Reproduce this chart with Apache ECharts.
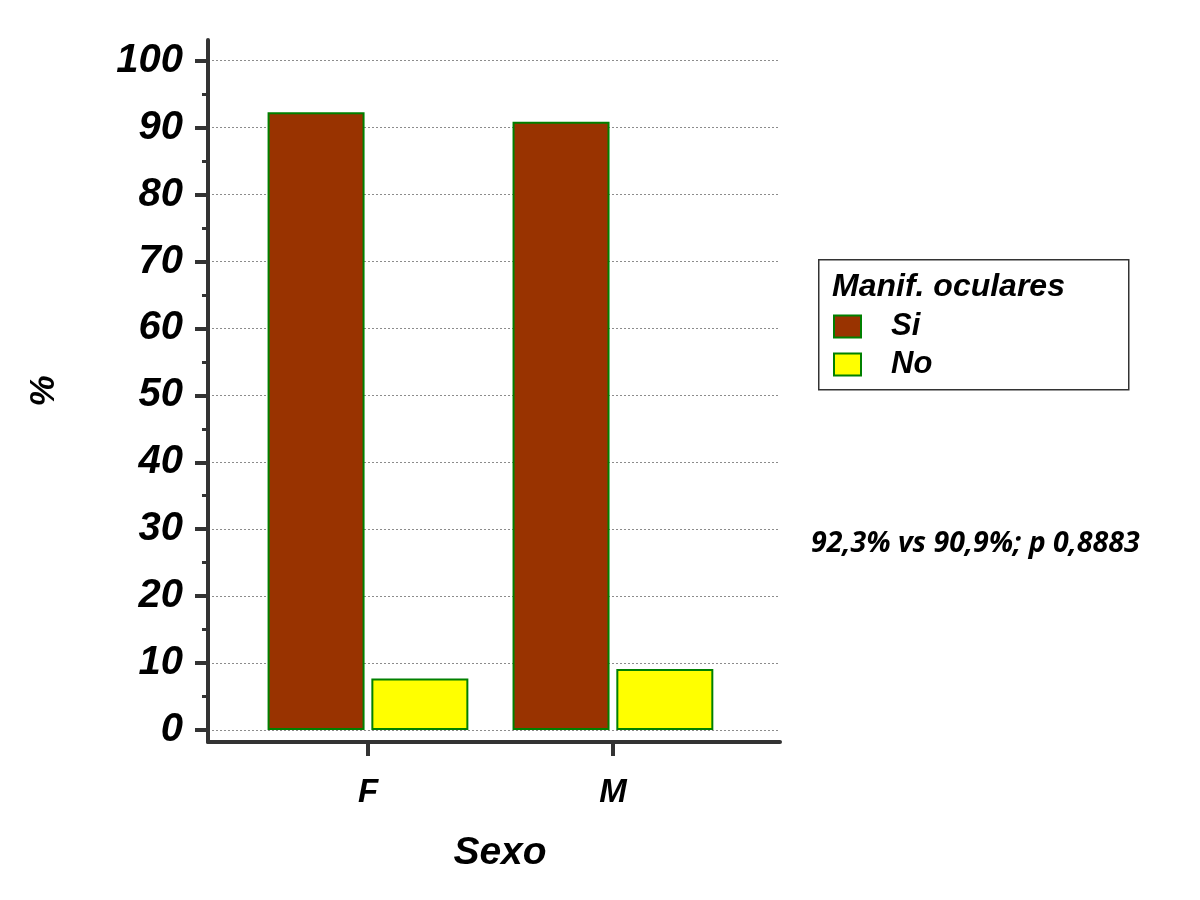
<!DOCTYPE html>
<html>
<head>
<meta charset="utf-8">
<script src="https://cdn.jsdelivr.net/npm/echarts@6/dist/echarts.min.js"></script>
<style>html,body{margin:0;padding:0;background:#fff}#c{width:1200px;height:900px}</style>
</head>
<body>
<div id="c"></div>
<script>
const categories = ['F', 'M'];
const seriesNames = ['Si', 'No'];
const siValues = [92.3, 90.9];
const noValues = [7.7, 9.1];
const yMajorTicks = [0, 10, 20, 30, 40, 50, 60, 70, 80, 90, 100];
const yMinorTicks = [5, 15, 25, 35, 45, 55, 65, 75, 85, 95];
const xTickPositions = [0, 1];
const annotation = '92,3% vs 90,9%; p 0,8883';
const legendTitle = 'Manif. oculares';

const font = 'Arial, "Liberation Sans", sans-serif';
const chart = echarts.init(document.getElementById('c'));
const axisColor = '#333333';

chart.setOption({
  backgroundColor: '#ffffff',
  animation: false,
  graphic: [{
    type: 'rect',
    left: 818, top: 259,
    shape: { width: 310, height: 130 },
    style: { fill: '#ffffff', stroke: '#333333', lineWidth: 1.5 },
    z: 0
  }],
  title: [{
    text: legendTitle,
    left: 832, top: 271,
    padding: 0,
    textStyle: { fontFamily: font, fontStyle: 'italic', fontWeight: 'bold', fontSize: 32, color: '#000' },
    z: 5
  }, {
    text: annotation,
    left: 811, top: 529,
    padding: 0,
    textStyle: { fontFamily: '"Open Sans", sans-serif', fontStyle: 'italic', fontWeight: 'bold', fontSize: 28.5, color: '#000' }
  }],
  legend: {
    left: 833, top: 311,
    orient: 'vertical',
    padding: 0,
    icon: 'rect',
    itemWidth: 27, itemHeight: 22, itemGap: 7,
    data: seriesNames,
    itemStyle: { borderColor: '#008000', borderWidth: 2 },
    textStyle: { fontFamily: font, fontStyle: 'italic', fontWeight: 'bold', fontSize: 31, color: '#000', padding: [0, 0, 0, 25], lineHeight: 22 },
    z: 5
  },
  grid: { left: 208, right: 420, top: 40, bottom: 158, containLabel: false },
  xAxis: {
    type: 'value',
    min: -0.653, max: 1.682,
    name: 'Sexo',
    nameLocation: 'middle',
    nameGap: 92,
    nameTextStyle: { fontFamily: font, fontStyle: 'italic', fontWeight: 'bold', fontSize: 39, color: '#000', padding: [0, 0, 0, 12] },
    axisLine: { show: true, onZero: false, lineStyle: { color: axisColor, width: 4 } },
    axisTick: { show: true, customValues: xTickPositions, length: 14, lineStyle: { color: axisColor, width: 4 } },
    axisLabel: {
      customValues: xTickPositions,
      margin: 34,
      formatter: v => categories[Math.round(v)] || '',
      fontFamily: font, fontStyle: 'italic', fontWeight: 'bold', fontSize: 33, color: '#000'
    },
    splitLine: { show: false }
  },
  yAxis: [{
    type: 'value',
    min: -1.8, max: 103.1,
    name: '%',
    nameLocation: 'middle',
    nameGap: 146,
    nameRotate: 90,
    nameTextStyle: { fontFamily: font, fontStyle: 'italic', fontWeight: 'bold', fontSize: 35, color: '#000' },
    axisLine: { show: true, onZero: false, lineStyle: { color: axisColor, width: 4 } },
    axisTick: { show: true, customValues: yMajorTicks, length: 13, lineStyle: { color: axisColor, width: 4 } },
    axisLabel: {
      customValues: yMajorTicks,
      margin: 25,
      fontFamily: font, fontStyle: 'italic', fontWeight: 'bold', fontSize: 40, color: '#000'
    },
    splitLine: { show: true, lineStyle: { color: '#8c8c8c', type: [2, 2], width: 1 } }
  }, {
    type: 'value',
    min: -1.8, max: 103.1,
    position: 'left',
    axisLine: { show: false, onZero: false },
    axisTick: { show: true, customValues: yMinorTicks, length: 6, lineStyle: { color: axisColor, width: 3 } },
    axisLabel: { show: false },
    splitLine: { show: false }
  }],
  series: [{
    name: seriesNames[0],
    type: 'bar',
    barWidth: 97,
    barGap: '7%',
    data: categories.map((c, i) => [i, siValues[i]]),
    itemStyle: { color: '#993300', borderColor: '#008000', borderWidth: 2 }
  }, {
    name: seriesNames[1],
    type: 'bar',
    barWidth: 97,
    barGap: '7%',
    data: categories.map((c, i) => [i, noValues[i]]),
    itemStyle: { color: '#ffff00', borderColor: '#008000', borderWidth: 2 }
  }]
});
</script>
</body>
</html>
